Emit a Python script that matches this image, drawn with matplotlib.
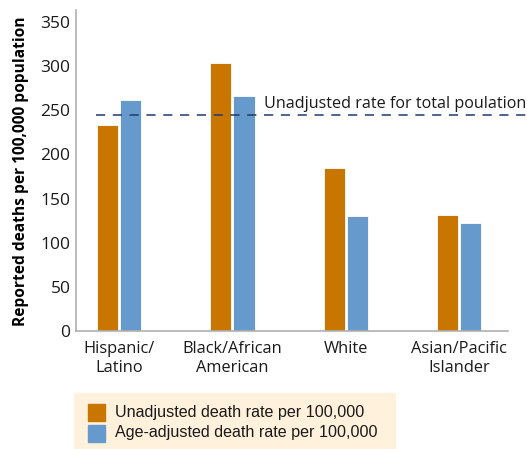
import numpy as np
import matplotlib.pyplot as plt
from matplotlib.patches import Rectangle

# Death rates per 100,000 by race/ethnicity
groups = ['Hispanic/\nLatino', 'Black/African\nAmerican', 'White', 'Asian/Pacific\nIslander']
unadjusted = [233, 303, 185, 131]
age_adjusted = [261, 266, 130, 122]
total_rate = 244

orange = '#C87600'
blue = '#6699CC'

fig = plt.figure(figsize=(5.27, 4.49), dpi=100)
ax = fig.add_axes([0.1442, 0.2617, 0.8198, 0.716])

x = np.arange(len(groups))
w = 0.186
ax.bar(x - w / 2 - 0.009, unadjusted, w, color=orange, edgecolor='white', linewidth=0.6)
ax.bar(x + w / 2 + 0.009, age_adjusted, w, color=blue, edgecolor='white', linewidth=0.6)

ax.set_xlim(-0.38, 3.43)
ax.set_ylim(0, 363)
ax.set_yticks(range(0, 351, 50))
ax.set_xticks(x)
ax.set_xticklabels(groups, fontsize=11.8, family='Open Sans', linespacing=1.25)
ax.tick_params(axis='both', length=0, colors='#1a1a1a')
ax.tick_params(axis='y', labelsize=12.5, pad=4)
ax.tick_params(axis='x', pad=7)
for lab in ax.get_yticklabels():
    lab.set_family('Open Sans')

for s in ['top', 'right']:
    ax.spines[s].set_visible(False)
for s in ['left', 'bottom']:
    ax.spines[s].set_color('#b0b0b0')
    ax.spines[s].set_linewidth(1.2)

# reference line for the whole population, runs past the axis end
ax.plot([-0.2, 3.6], [total_rate, total_rate], ls=(0, (6, 5)), color='#1F3B6E',
        lw=1.1, clip_on=False, zorder=3)
ax.text(1.28, total_rate + 4, 'Unadjusted rate for total poulation', fontsize=11.6,
        family='Open Sans', color='#1a1a1a', va='bottom', ha='left')

ax.set_ylabel('Reported deaths per 100,000 population', fontsize=11.2,
              fontweight='bold', family='Open Sans', labelpad=8)

# legend panel
fig.patches.append(Rectangle((74 / 527, 1 - 448 / 449), 321 / 527, 55 / 449,
                             transform=fig.transFigure, color='#FFF1DB', zorder=0))
for i, (c, lab) in enumerate([(orange, 'Unadjusted death rate per 100,000'),
                              (blue, 'Age-adjusted death rate per 100,000')]):
    yc = 412 + i * 21
    fig.patches.append(Rectangle((88 / 527, 1 - (yc + 8.5) / 449), 17 / 527, 17 / 449,
                                 transform=fig.transFigure, color=c, zorder=1))
    fig.text(115 / 527, 1 - yc / 449, lab, fontsize=11.6, family='Liberation Sans',
             va='center', ha='left', color='#1a1a1a')

fig.savefig('out.png', dpi=100)
